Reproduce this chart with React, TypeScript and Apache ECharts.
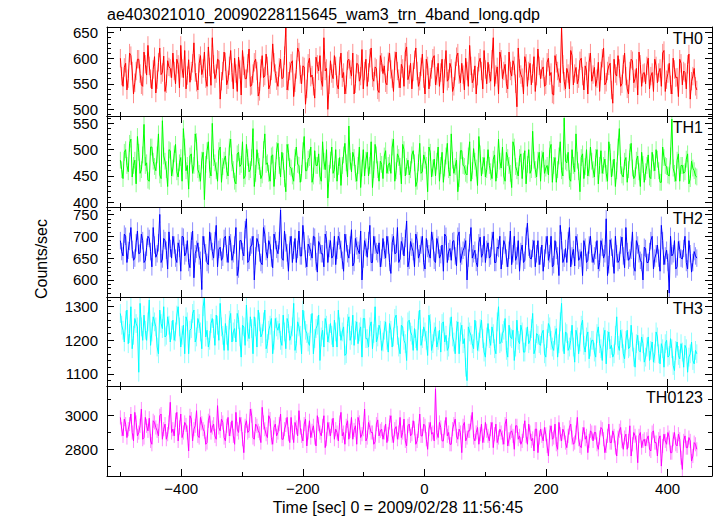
import React, { useEffect, useRef } from 'react';
import * as echarts from 'echarts';

const TITLE = 'ae403021010_20090228115645_wam3_trn_4band_long.qdp';
const X_TITLE = 'Time [sec] 0 = 2009/02/28 11:56:45';
const Y_TITLE = 'Counts/sec';

const T_START = -500;
const T_END = 448;
const X_MIN = -522;
const X_MAX = 473;
const X_MAJOR = [-400, -200, 0, 200, 400];
const X_MINOR = [-500, -400, -300, -200, -100, 0, 100, 200, 300, 400];

// Each band is read in two passes over the time bins: "A" holds the even bins, "B" the odd bins.
const th0A = [
  600,545,590,560,605,530,575,598,548,612,567,585,540,603,558,620,572,535,595,580,
  610,550,588,625,562,540,597,575,630,553,590,568,612,545,583,640,560,598,520,575,
  593,558,615,540,570,602,528,585,560,618,547,592,575,535,605,565,585,548,628,570,
  545,598,562,660,555,590,525,578,612,550,583,540,600,567,522,588,605,545,575,500,
  595,560,585,540,610,572,548,598,565,530,590,555,617,575,545,600,562,583,538,605,
  570,552,593,578,535,612,560,588,545,622,568,540,597,575,555,608,530,585,563,600,
  548,590,572,532,615,560,580,545,603,568,590,538,575,625,552,585,565,600,540,578,
  592,555,640,568,530,598,575,550,612,565,585,505,580,562,603,545,590,570,535,618,
  560,583,548,600,572,528,590,562,660,555,580,540,605,570,550,595,565,585,530,610,
  568,545,592,575,620,553,585,538,598,565,580,550,610,540,575,595,560,528,588,570,
  550,600,565,535,585,572,545,615,558,590,530,578,563,598,548,572,588,520,565,545
];
const th0B = [
  565,582,538,610,575,552,598,570,545,588,625,560,578,532,592,568,604,550,583,562,
  575,598,542,580,615,566,553,590,572,538,605,580,560,622,547,588,570,596,555,612,
  548,585,572,600,535,578,615,560,590,545,570,598,526,580,562,608,540,575,592,556,
  582,560,605,538,575,595,552,620,568,585,510,590,563,545,602,575,556,640,580,548,
  570,605,548,585,562,530,595,578,610,550,588,565,540,598,572,620,555,580,533,592,
  585,548,610,560,595,575,542,580,612,558,590,573,620,545,583,560,598,540,578,605,
  565,545,598,580,555,590,535,575,610,552,568,600,545,585,560,530,592,575,615,550,
  570,598,545,583,612,560,588,540,575,595,550,620,568,530,590,575,548,603,565,585,
  578,545,592,566,530,605,575,552,588,540,570,615,548,582,560,600,538,575,592,555,
  582,560,535,600,548,575,590,512,570,605,545,588,565,530,598,552,580,612,545,572,
  585,540,572,598,552,580,610,535,570,548,600,562,525,590,575,540,608,555,580,538
];

const th1A = [
  480,445,500,458,520,470,435,495,462,548,475,440,505,468,490,452,555,478,430,498,
  465,510,448,485,540,460,425,492,470,515,455,480,405,498,462,550,475,440,505,468,
  488,450,520,462,435,495,472,445,510,458,485,430,500,468,452,530,475,440,490,460,
  512,448,478,420,495,465,440,505,470,455,525,460,485,438,498,470,450,515,462,408,
  480,455,500,468,432,490,475,545,458,485,440,505,465,450,495,470,428,510,462,478,
  445,498,470,455,520,460,485,435,500,468,452,490,475,440,512,458,480,420,495,465,
  450,505,470,438,488,462,530,455,480,445,498,468,452,515,460,478,432,492,470,448,
  500,458,482,440,520,465,450,495,470,428,505,460,485,445,498,472,455,535,462,480,
  440,495,465,452,510,470,438,488,460,560,475,445,500,458,480,420,492,468,450,505,
  462,485,435,498,470,455,515,448,482,460,540,452,478,438,495,465,450,488,430,472,
  458,490,445,475,500,460,438,485,468,450,558,455,480,440,470,458,492,445,465,450
];
const th1B = [
  462,495,470,512,448,480,525,455,490,470,442,505,478,460,530,445,488,462,500,450,
  492,458,475,440,505,470,488,455,530,462,440,495,472,515,450,485,460,498,438,480,
  460,505,475,440,492,468,515,450,485,462,540,455,478,445,500,472,455,488,430,498,
  470,495,445,510,468,450,485,472,438,498,460,482,505,450,470,492,440,478,500,455,
  505,462,440,485,470,512,448,478,495,455,470,428,500,480,450,515,462,490,440,472,
  488,455,475,505,440,492,468,510,450,480,462,498,430,475,455,490,470,505,448,482,
  478,440,495,465,512,450,480,468,420,498,470,455,488,440,502,465,525,450,485,462,
  470,445,490,462,478,505,440,485,455,515,468,450,492,478,435,500,462,480,448,495,
  482,455,470,500,438,485,462,515,450,478,495,440,470,530,458,485,445,500,465,478,
  448,500,470,455,482,440,495,465,430,505,470,448,485,462,512,445,480,458,495,438,
  470,448,495,460,482,438,505,470,452,488,465,440,492,470,455,482,435,478,460,448
];

const th2A = [
  690,655,700,668,720,645,685,660,705,640,675,695,630,680,660,750,648,690,625,672,
  700,650,685,620,698,662,640,690,605,670,655,578,680,640,710,665,690,630,675,652,
  700,640,685,660,720,625,690,655,740,645,680,600,695,662,635,705,650,680,628,690,
  660,760,645,685,620,700,668,640,712,655,690,630,675,650,698,618,680,660,705,640,
  690,655,635,700,670,620,685,650,715,640,678,660,600,690,652,725,640,680,660,630,
  695,650,680,615,700,662,640,688,655,735,645,675,630,690,660,700,625,672,650,690,
  640,680,658,620,700,665,645,690,632,710,655,675,600,685,650,668,630,698,660,640,
  685,655,710,640,672,625,690,650,668,635,700,655,620,680,645,730,650,672,630,690,
  655,620,680,645,700,635,668,610,690,650,640,720,655,632,685,650,610,675,645,700,
  640,668,625,690,650,740,635,675,615,660,645,698,628,665,650,710,620,680,645,600,
  672,640,690,625,660,650,725,635,668,570,655,690,630,670,648,700,625,660,640,655
];
const th2B = [
  665,705,640,688,670,650,712,662,690,645,700,665,720,652,685,640,695,668,710,650,
  680,640,672,700,655,690,628,712,660,685,645,700,662,635,688,650,725,670,645,695,
  660,700,645,680,610,690,665,715,640,675,700,655,685,640,720,665,690,650,705,670,
  690,650,712,662,680,640,695,670,655,725,648,682,665,700,642,688,660,630,692,672,
  650,700,668,690,645,705,660,680,632,695,668,712,648,675,690,640,700,665,685,650,
  668,700,640,685,660,720,648,678,695,630,688,665,705,650,680,640,695,660,710,645,
  695,650,680,705,640,672,688,655,700,640,668,690,650,720,660,640,685,652,700,670,
  650,690,640,675,700,655,680,630,712,660,645,690,665,640,700,675,648,690,660,635,
  680,650,700,660,630,690,655,725,640,672,690,630,670,700,645,665,690,640,680,660,
  655,690,640,675,660,610,692,650,700,640,680,655,720,645,668,630,690,660,640,675,
  640,665,700,650,680,620,690,655,640,700,660,625,688,650,672,640,690,618,665,650
];

const th3A = [
  1280,1230,1260,1190,1300,1215,1250,1105,1240,1275,1200,1320,1225,1255,1180,1290,1235,1210,1270,1195,
  1260,1225,1300,1180,1245,1270,1160,1235,1290,1210,1250,1175,1325,1230,1200,1265,1185,1245,1310,1215,
  1250,1170,1280,1225,1195,1262,1150,1240,1305,1205,1235,1270,1180,1255,1220,1290,1190,1245,1160,1265,
  1230,1200,1275,1175,1250,1215,1310,1190,1240,1160,1260,1220,1185,1280,1205,1245,1140,1230,1265,1195,
  1250,1180,1225,1290,1200,1240,1160,1270,1215,1185,1255,1225,1150,1265,1205,1240,1175,1300,1210,1230,
  1195,1255,1165,1230,1210,1275,1180,1245,1200,1140,1260,1215,1235,1170,1290,1205,1225,1155,1250,1190,
  1240,1200,1165,1255,1215,1180,1270,1195,1230,1160,1245,1205,1080,1225,1190,1260,1170,1235,1205,1150,
  1250,1185,1220,1160,1300,1195,1230,1170,1245,1205,1140,1260,1190,1225,1165,1240,1200,1280,1175,1215,
  1185,1230,1150,1250,1200,1170,1235,1190,1310,1160,1220,1180,1245,1135,1210,1195,1260,1165,1225,1180,
  1200,1150,1240,1175,1210,1130,1225,1185,1160,1270,1170,1205,1145,1230,1180,1195,1120,1215,1165,1190,
  1150,1210,1170,1135,1225,1160,1190,1120,1200,1155,1175,1110,1195,1145,1165,1185,1105,1160,1140,1170
];
const th3B = [
  1245,1195,1290,1220,1175,1265,1240,1310,1200,1230,1255,1185,1270,1240,1160,1250,1300,1215,1245,1230,
  1200,1275,1240,1215,1160,1255,1230,1280,1195,1265,1225,1300,1210,1180,1250,1235,1275,1200,1240,1170,
  1215,1260,1195,1235,1280,1210,1245,1185,1225,1270,1160,1240,1290,1210,1255,1175,1230,1265,1200,1240,
  1250,1185,1225,1265,1200,1240,1170,1255,1215,1290,1230,1195,1250,1160,1235,1275,1210,1180,1245,1220,
  1215,1260,1180,1240,1225,1155,1250,1200,1275,1230,1190,1240,1265,1205,1180,1255,1220,1195,1245,1170,
  1230,1200,1250,1180,1265,1215,1160,1240,1190,1255,1225,1170,1205,1260,1185,1240,1200,1275,1170,1225,
  1180,1230,1250,1195,1170,1240,1210,1160,1255,1225,1190,1120,1240,1215,1175,1230,1195,1260,1165,1210,
  1205,1240,1175,1255,1190,1220,1265,1150,1210,1230,1180,1200,1245,1165,1210,1190,1235,1160,1220,1190,
  1220,1160,1205,1240,1180,1215,1150,1255,1195,1225,1170,1200,1180,1230,1160,1245,1185,1210,1145,1200,
  1165,1220,1190,1140,1230,1200,1175,1150,1215,1185,1230,1160,1200,1175,1245,1150,1190,1170,1210,1135,
  1180,1140,1195,1160,1210,1130,1175,1190,1150,1205,1125,1170,1155,1190,1120,1175,1150,1195,1130,1160
];

const th0123A = [
  2990,2880,2950,2920,3010,2850,2960,2900,3040,2870,2940,2985,2830,2960,2910,3000,2860,2950,2890,3080,
  2920,2975,2850,3010,2900,2945,2790,2980,2920,3030,2870,2955,2905,2840,3000,2930,2880,3060,2910,2960,
  2850,2990,2920,2880,3020,2900,2950,2780,2970,2910,3000,2860,2940,2895,3050,2920,2870,2980,2830,2950,
  2900,3010,2860,2945,2890,2990,2840,2930,3030,2880,2950,2820,2970,2910,2870,3000,2900,2940,2810,2960,
  2880,2985,2920,2850,3020,2900,2940,2860,2990,2915,2830,2960,2890,3040,2870,2930,2900,2845,2975,2910,
  2860,2950,2890,3000,2840,2935,2900,2870,2980,2820,2950,2890,2925,2850,3010,2880,2940,2800,2960,2900,
  3160,2870,2930,2850,2990,2900,2830,2950,2880,2920,2780,2960,2870,2910,3020,2850,2930,2890,2840,2960,
  2880,2920,2810,2950,2870,2900,2830,2980,2860,2910,2800,2940,2880,2850,2970,2830,2900,2865,2920,2780,
  2920,2850,2890,2760,2940,2870,2830,2960,2850,2900,2810,2930,2870,2840,2990,2820,2890,2860,2780,2910,
  2850,2900,2800,2930,2860,2820,2950,2840,2880,2760,2910,2850,2870,2800,2940,2830,2880,2720,2900,2850,
  2820,2880,2790,2910,2840,2860,2700,2890,2830,2870,2780,2900,2820,2860,2680,2880,2810,2850,2760,2830
];
const th0123B = [
  2920,2980,2870,2950,2900,3020,2880,2940,2860,2990,2910,2850,2970,2930,2880,3010,2920,2860,2960,2900,
  2880,3020,2930,2870,2960,2900,3000,2850,2940,2880,2990,2920,2830,2970,2900,2950,2860,2930,2980,2870,
  2940,2880,2970,2830,2920,2990,2860,2940,2900,3040,2870,2950,2910,2840,2960,2890,3000,2870,2930,2880,
  2950,2860,2920,2990,2840,2900,2960,2880,2930,2850,2980,2900,2870,2940,2820,2950,2880,3000,2860,2920,
  2940,2860,2900,2960,2880,2830,2970,2910,2860,2940,2990,2870,2920,2850,2960,2900,2830,2950,2880,2920,
  2900,2840,2960,2880,2920,2860,2990,2900,2850,2940,2880,2970,2830,2910,2880,2950,2860,2920,2890,2850,
  2900,2960,2850,2930,2880,2830,2920,2980,2860,2900,2940,2850,2910,2960,2870,2900,2830,2950,2880,2910,
  2850,2960,2890,2840,2920,2870,2950,2820,2900,2880,2940,2860,2830,2910,2880,2950,2850,2790,2920,2870,
  2880,2930,2820,2900,2860,2950,2800,2890,2920,2840,2880,2950,2830,2900,2860,2810,2930,2880,2850,2900,
  2900,2830,2870,2920,2780,2880,2840,2910,2810,2870,2930,2800,2890,2850,2760,2900,2840,2880,2810,2860,
  2860,2800,2900,2840,2760,2880,2820,2850,2900,2780,2860,2830,2890,2750,2850,2810,2870,2730,2840,2800
];

const PANEL_NAMES = ['TH0', 'TH1', 'TH2', 'TH3', 'TH0123'];
const PANEL_A = [th0A, th1A, th2A, th3A, th0123A];
const PANEL_B = [th0B, th1B, th2B, th3B, th0123B];
// typical 1-sigma error bar half-length per band (counts/sec)
const PANEL_ERR = [18, 16, 20, 28, 42];
const PANEL_COLORS = ['#ff0000', '#00ff00', '#0000ff', '#00ffff', '#ff00ff'];
const Y_MIN = [487, 391, 561, 1064, 2641];
const Y_MAX = [661, 564, 767, 1329, 3177];
const Y_LABELS = [
  [500, 550, 600, 650],
  [400, 450, 500, 550],
  [600, 650, 700, 750],
  [1100, 1200, 1300],
  [2800, 3000],
];
const Y_MINOR_STEP = [10, 10, 10, 20, 100];

const TOPS = [27, 116, 207, 297, 386, 476];
const LEFT = 107;
const RIGHT = 712;
const FONT = "'Liberation Sans', Arial, Helvetica, sans-serif";
const AXIS_COLOR = '#000';

function stepValues(a: number, b: number, step: number): number[] {
  const out: number[] = [];
  for (let v = Math.ceil(a / step) * step; v <= b; v += step) out.push(v);
  return out;
}

function mergeBins(a: number[], b: number[]): number[] {
  const out: number[] = [];
  for (let k = 0; k < a.length; k++) {
    out.push(a[k]);
    if (k < b.length) out.push(b[k]);
  }
  return out;
}

const minus = (v: number) => String(v).replace('-', '\u2212');

function buildOption() {
  const grid: any[] = [];
  const xAxis: any[] = [];
  const yAxis: any[] = [];
  const series: any[] = [];
  const graphic: any[] = [];

  PANEL_NAMES.forEach((name, i) => {
    grid.push({ left: LEFT, width: RIGHT - LEFT, top: TOPS[i], height: TOPS[i + 1] - TOPS[i] });
    const xBase = (position: string, major: boolean, showLine: boolean, showLabel: boolean) => ({
      type: 'value',
      gridIndex: i,
      position,
      min: X_MIN,
      max: X_MAX,
      splitLine: { show: false },
      axisLine: { show: showLine, onZero: false, lineStyle: { color: AXIS_COLOR, width: 1 } },
      axisTick: {
        show: true,
        inside: true,
        length: major ? 7 : 4,
        customValues: major ? X_MAJOR : X_MINOR,
        lineStyle: { color: AXIS_COLOR, width: 1 },
      },
      axisLabel: {
        show: showLabel,
        customValues: X_MAJOR,
        formatter: (v: number) => minus(v),
        fontSize: 15,
        fontFamily: FONT,
        color: '#000',
        margin: 5,
      },
      z: 5,
    });
    xAxis.push(xBase('bottom', true, true, i === 4));
    xAxis.push(xBase('bottom', false, false, false));
    xAxis.push(xBase('top', true, true, false));
    xAxis.push(xBase('top', false, false, false));

    const minorVals = stepValues(Y_MIN[i], Y_MAX[i], Y_MINOR_STEP[i]);
    const yBase = (position: string, major: boolean, showLine: boolean, showLabel: boolean) => ({
      type: 'value',
      gridIndex: i,
      position,
      min: Y_MIN[i],
      max: Y_MAX[i],
      splitLine: { show: false },
      axisLine: { show: showLine, onZero: false, lineStyle: { color: AXIS_COLOR, width: 1 } },
      axisTick: {
        show: true,
        inside: true,
        length: major ? 7 : 4,
        customValues: major ? Y_LABELS[i] : minorVals,
        lineStyle: { color: AXIS_COLOR, width: 1 },
      },
      axisLabel: {
        show: showLabel,
        customValues: Y_LABELS[i],
        formatter: (v: number) => String(v),
        fontSize: 15,
        fontFamily: FONT,
        color: '#000',
        margin: 9,
      },
      z: 5,
    });
    yAxis.push(yBase('left', true, true, true));
    yAxis.push(yBase('left', false, false, false));
    yAxis.push(yBase('right', true, true, false));
    yAxis.push(yBase('right', false, false, false));

    const arr = mergeBins(PANEL_A[i], PANEL_B[i]);
    const dt = (T_END - T_START) / (arr.length - 1);
    const pts = arr.map((v, k) => [T_START + k * dt, v, PANEL_ERR[i]]);
    const color = PANEL_COLORS[i];

    series.push({
      type: 'custom',
      name: name + ' err',
      coordinateSystem: 'cartesian2d',
      xAxisIndex: i * 4,
      yAxisIndex: i * 4,
      data: pts,
      encode: { x: 0, y: 1 },
      clip: true,
      silent: true,
      z: 1,
      renderItem: (params: any, api: any) => {
        const t = api.value(0);
        const v = api.value(1);
        const e = api.value(2);
        const p1 = api.coord([t, v - e]);
        const p2 = api.coord([t, v + e]);
        return {
          type: 'line',
          shape: { x1: p1[0], y1: p1[1], x2: p2[0], y2: p2[1] },
          style: { stroke: color, lineWidth: 1, opacity: 0.45 },
        };
      },
    });
    series.push({
      type: 'line',
      name,
      xAxisIndex: i * 4,
      yAxisIndex: i * 4,
      data: pts.map((p) => [p[0], p[1]]),
      showSymbol: false,
      symbol: 'none',
      clip: true,
      silent: true,
      lineStyle: { color, width: 1 },
      z: 2,
    });

    graphic.push({
      type: 'text',
      right: 717 - 703,
      top: TOPS[i] + 3,
      style: { text: name, font: `16px ${FONT}`, fill: '#000' },
      z: 10,
    });
  });

  graphic.push({
    type: 'text',
    left: LEFT,
    top: 6,
    style: { text: TITLE, font: `16px ${FONT}`, fill: '#000' },
  });
  graphic.push({
    type: 'text',
    x: 41,
    y: 259,
    rotation: Math.PI / 2,
    style: { text: Y_TITLE, font: `16px ${FONT}`, fill: '#000', align: 'center', verticalAlign: 'middle' },
  });
  graphic.push({
    type: 'text',
    x: 398,
    y: 507,
    style: { text: X_TITLE, font: `16px ${FONT}`, fill: '#000', align: 'center', verticalAlign: 'middle' },
  });

  return {
    animation: false,
    backgroundColor: '#fff',
    grid,
    xAxis,
    yAxis,
    series,
    graphic,
  };
}

export default function App() {
  const ref = useRef<HTMLDivElement>(null);
  useEffect(() => {
    document.body.style.margin = '0';
    if (!ref.current) return;
    const chart = echarts.init(ref.current, undefined, { renderer: 'svg' });
    chart.setOption(buildOption() as any);
    return () => chart.dispose();
  }, []);
  return <div ref={ref} style={{ position: 'fixed', left: 0, top: 0, width: 717, height: 516 }} />;
}
